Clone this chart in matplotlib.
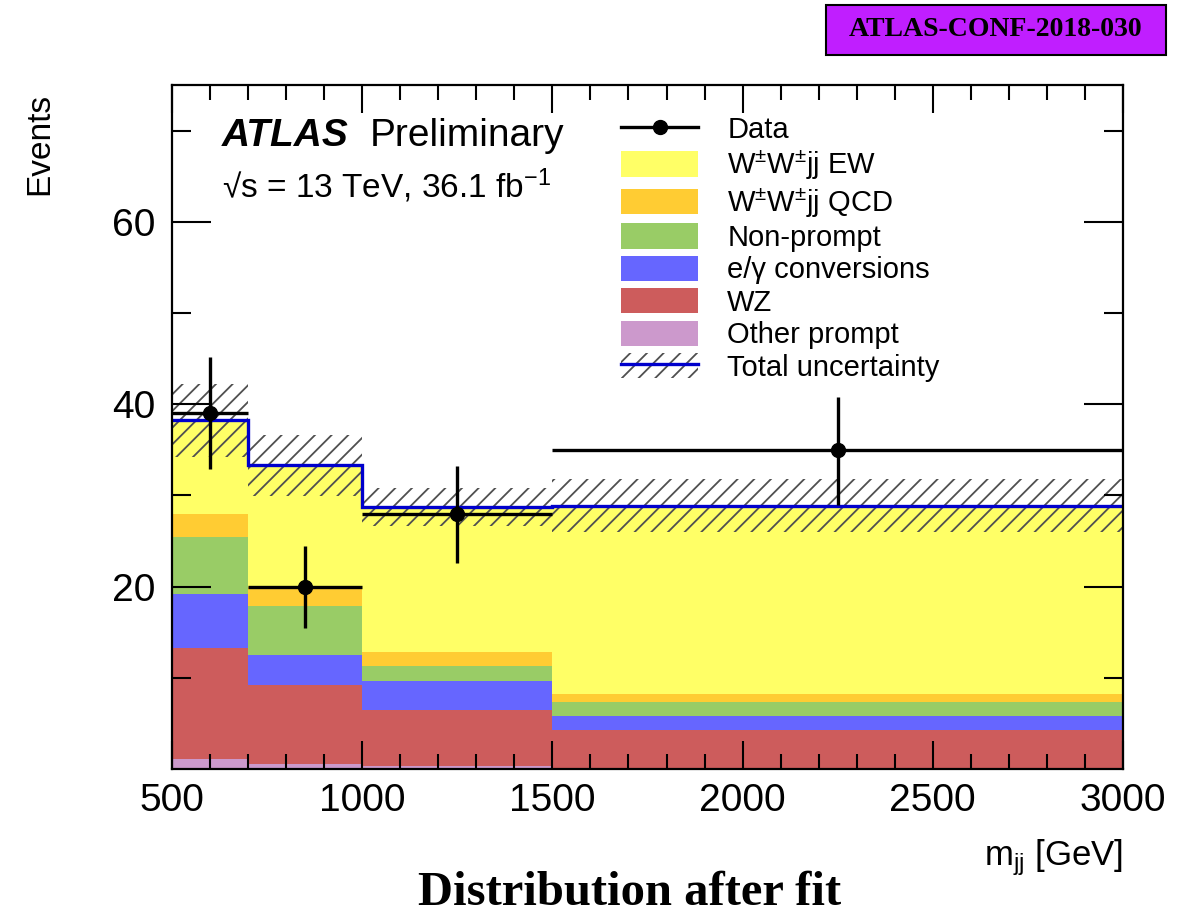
import matplotlib
matplotlib.use("Agg")
import matplotlib.pyplot as plt
from matplotlib.patches import Patch, Rectangle
from matplotlib.lines import Line2D
import numpy as np

# ---- data ----
edges = [500, 700, 1000, 1500, 3000]
other_prompt = [1.1, 0.6, 0.35, 0.15]
wz = [12.2, 8.6, 6.15, 4.1]
conversions = [5.9, 3.3, 3.1, 1.6]
non_prompt = [6.2, 5.4, 1.7, 1.45]
wwjj_qcd = [2.6, 2.1, 1.5, 0.95]
wwjj_ew = [10.25, 13.3, 15.9, 20.6]
total_unc = [4.0, 3.35, 2.1, 2.9]

data_x = [600, 850, 1250, 2250]
data_y = [39, 20, 28, 35]
data_err_dn = [6.1, 4.5, 5.4, 6.0]
data_err_up = [6.2, 4.5, 5.2, 5.8]

labels = ["W$^{\\pm}$W$^{\\pm}$jj EW", "W$^{\\pm}$W$^{\\pm}$jj QCD", "Non-prompt",
          "e/\u03b3 conversions", "WZ", "Other prompt"]
colors = ["#ffff66", "#ffcc33", "#99cc66", "#6666ff", "#cd5c5c", "#cc99cc"]

plt.rcParams['font.family'] = ['Liberation Sans', 'DejaVu Sans']
plt.rcParams['mathtext.fontset'] = 'custom'
plt.rcParams['mathtext.rm'] = 'Liberation Sans'
plt.rcParams['mathtext.it'] = 'Liberation Sans:italic'
plt.rcParams['mathtext.bf'] = 'Liberation Sans:bold'
plt.rcParams['hatch.linewidth'] = 1.3

fig = plt.figure(figsize=(11.88, 9.21), dpi=100)
ax = fig.add_axes([172 / 1188, 1 - 769 / 921, (1123 - 172) / 1188, (769 - 85) / 921])

# stack from bottom up
stack = [other_prompt, wz, conversions, non_prompt, wwjj_qcd, wwjj_ew]
stack_colors = colors[::-1]
bottom = np.zeros(len(edges) - 1)
for vals, c in zip(stack, stack_colors):
    top = bottom + np.array(vals)
    ax.stairs(top, edges, baseline=bottom, fill=True, color=c, linewidth=0)
    bottom = top
total = bottom

unc = np.array(total_unc)
ax.stairs(total + unc, edges, baseline=total - unc, fill=True, facecolor='none',
          edgecolor='#505050', hatch='//', linewidth=0)
ax.stairs(total, edges, color='#0000cc', linewidth=2.4, baseline=None)

xerr = [np.array(data_x) - np.array(edges[:-1]), np.array(edges[1:]) - np.array(data_x)]
ax.errorbar(data_x, data_y, xerr=xerr, yerr=[data_err_dn, data_err_up], fmt='o',
            color='black', markersize=10, elinewidth=2.4, capsize=0, zorder=5)

ax.set_xlim(500, 3000)
ax.set_ylim(0, 75)
ax.set_xticks([500, 1000, 1500, 2000, 2500, 3000])
ax.set_xticks(np.arange(500, 3001, 100), minor=True)
ax.set_yticks([20, 40, 60])
ax.set_yticks([10, 30, 50, 70], minor=True)
ax.tick_params(which='both', direction='in', top=True, right=True, labelsize=28, width=1.5)
ax.tick_params(axis='x', which='major', length=20, pad=10)
ax.tick_params(axis='x', which='minor', length=11)
ax.tick_params(axis='y', which='major', length=28, pad=12)
ax.tick_params(axis='y', which='minor', length=14)
for s in ax.spines.values():
    s.set_linewidth(1.6)

# legend
h_data = Line2D([], [], color='black', marker='o', markersize=10, linewidth=2.4)
handles = [h_data] + [Patch(facecolor=c, edgecolor='none') for c in colors]
handles.append((Patch(facecolor='none', edgecolor='#505050', hatch='//', linewidth=0),
                Line2D([], [], color='#0000cc', linewidth=2.4)))
ax.legend(handles, ["Data"] + labels + ["Total uncertainty"], loc='upper left',
          bbox_to_anchor=(0.472, 0.955), frameon=False, fontsize=21,
          handlelength=2.65, handleheight=0.95, handletextpad=1.0,
          labelspacing=0.13, borderpad=0, borderaxespad=0)

fig.text(222 / 1188, 1 - 146 / 921, "ATLAS", fontsize=28, fontweight='bold',
         fontstyle='italic', va='baseline')
fig.text(370 / 1188, 1 - 146 / 921, "Preliminary", fontsize=28, va='baseline')
fig.text(222 / 1188, 1 - 198 / 921, "\u221as = 13 TeV, 36.1 fb$^{-1}$", fontsize=24,
         va='baseline')

fig.text(40 / 1188, 1 - 93 / 921, "Events", fontsize=24, rotation=90,
         ha='center', va='top')
fig.text(1123 / 1188, 1 - 858 / 921, "m$_{\\rm jj}$ [GeV]", fontsize=25,
         ha='right', va='center')

fig.text(630 / 1188, 1 - 893 / 921, "Distribution after fit", fontsize=35,
         fontweight='bold', family='Liberation Serif', ha='center', va='center')

fig.patches.append(Rectangle((826 / 1188, 1 - 55 / 921), 340 / 1188, 50 / 921,
                             transform=fig.transFigure, facecolor='#c01eff',
                             edgecolor='black', linewidth=1.5))
fig.text(996 / 1188, 1 - 30 / 921, "ATLAS-CONF-2018-030", fontsize=20,
         fontweight='bold', family='Liberation Serif', ha='center', va='center')

plt.savefig("out.png", dpi=100)
